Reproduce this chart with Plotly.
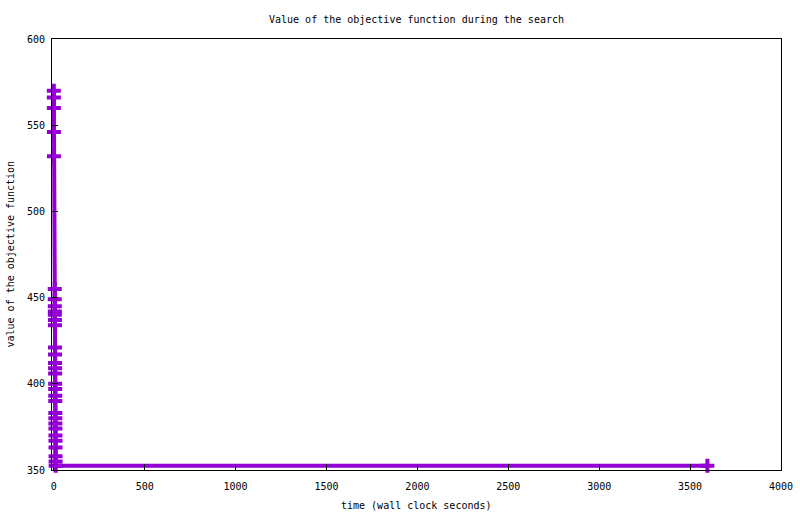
import plotly.graph_objects as go

# wall-clock times (s) and objective values
times = [0.0, 0.1, 0.2, 0.3, 0.5, 5.0, 5.2, 5.4, 5.6, 5.8, 6.0, 6.2,
         6.4, 6.6, 6.8, 7.0, 7.2, 7.4, 7.6, 7.8, 8.0, 8.2, 8.4, 8.6, 8.8,
         9.0, 9.2, 9.4, 9.6, 9.8, 10.0, 3595.0]
values = [570, 566, 560, 546, 532, 455, 449, 445, 442, 440, 437, 434,
          421, 417, 412, 409, 406, 400, 397, 393, 390, 383, 380, 377, 374,
          370, 367, 363, 358, 355, 352.5, 352.5]

x_ticks = [0, 500, 1000, 1500, 2000, 2500, 3000, 3500, 4000]
y_ticks = [350, 400, 450, 500, 550, 600]

font = "DejaVu Sans Mono, monospace"
W, H = 800, 514
L, R, T, B = 52, 19, 39, 44

fig = go.Figure()
fig.add_trace(go.Scatter(
    x=times, y=values, mode="lines+markers",
    line=dict(color="#9400D3", width=4),
    marker=dict(symbol="cross-thin", size=10, color="#9400D3",
                line=dict(color="#9400D3", width=4)),
    cliponaxis=False,
    showlegend=False,
))

axis_common = dict(
    showgrid=False, zeroline=False, showline=True, linecolor="black",
    linewidth=1, mirror=True, ticks="inside", ticklen=6, tickcolor="black",
    tickfont=dict(family=font, size=10, color="black"), automargin=False,
)

fig.update_layout(
    width=W, height=H,
    margin=dict(l=L, r=R, t=T, b=B, autoexpand=False),
    paper_bgcolor="white", plot_bgcolor="white",
    title=dict(text="Value of the objective function during the search",
               x=0.5, xref="paper", xanchor="center",
               y=1 - 19 / H, yref="container", yanchor="middle",
               font=dict(family=font, size=10, color="black")),
    xaxis=dict(range=[-10, 4000], tickvals=x_ticks, ticklabelstandoff=7,
               **axis_common),
    yaxis=dict(range=[350, 600], tickvals=y_ticks, ticklabelstandoff=4,
               **axis_common),
    annotations=[
        dict(text="time (wall clock seconds)", xref="paper", yref="paper",
             x=0.5, y=-(505 - (H - B)) / (H - T - B), xanchor="center",
             yanchor="middle", showarrow=False,
             font=dict(family=font, size=10, color="black")),
        dict(text="value of the objective function", xref="paper",
             yref="paper", x=-(L - 10) / (W - L - R), y=0.5,
             xanchor="center", yanchor="middle", textangle=-90,
             showarrow=False,
             font=dict(family=font, size=10, color="black")),
    ],
)

fig.write_html("out.html",
               config={"displayModeBar": False},
               post_script="document.body.style.margin='0';"
                           "document.body.style.overflow='hidden';")
